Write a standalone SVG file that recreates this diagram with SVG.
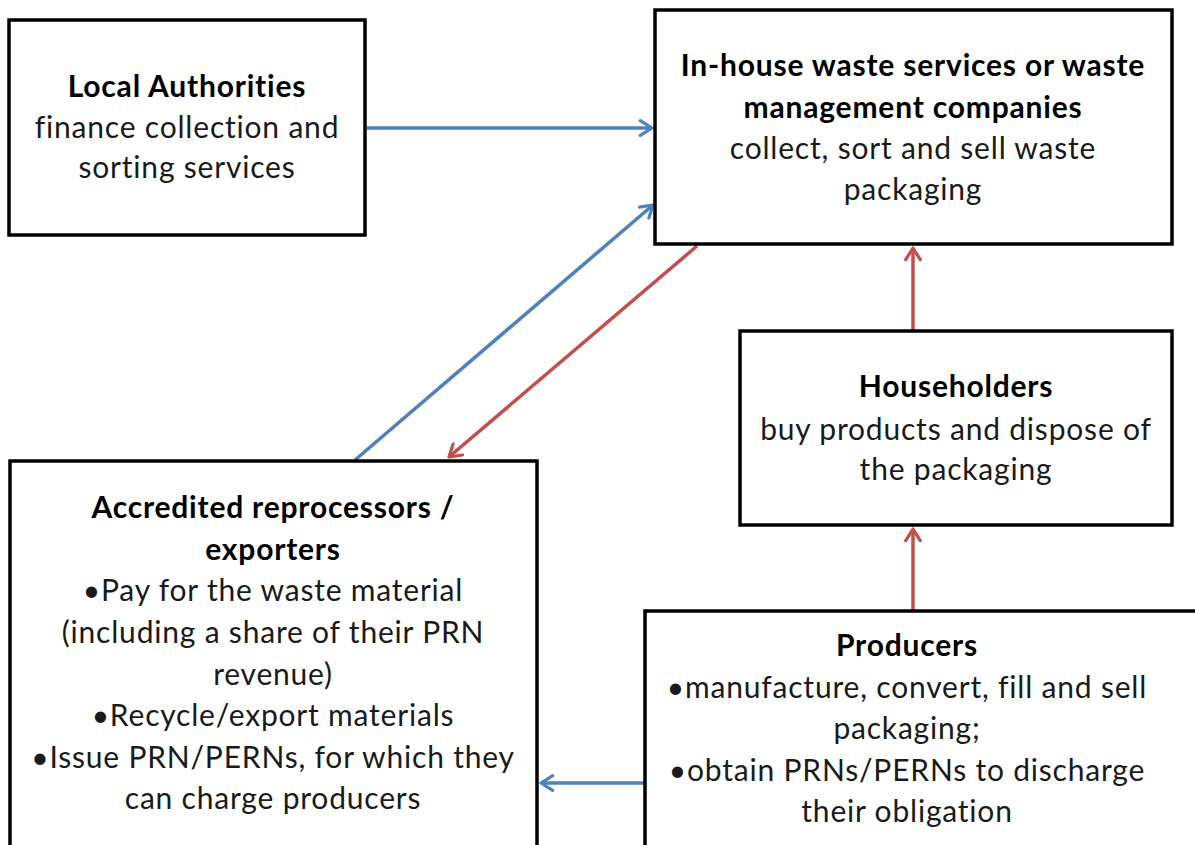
<svg xmlns="http://www.w3.org/2000/svg" width="1195" height="845" viewBox="0 0 1195 845">
<defs>
<style>
.box{fill:#fff;stroke:#000;stroke-width:3.5}
text{font-family:Lato,"Liberation Sans",sans-serif;font-size:30px;letter-spacing:0.8px;fill:#1a1a1a;text-anchor:middle}
.b{font-weight:bold;fill:#000}
.blue{stroke:#4F81BD;stroke-width:3.5;fill:none}
.red{stroke:#C0504D;stroke-width:3.5;fill:none}
</style>
<marker id="ab" viewBox="0 0 12 12" refX="10" refY="6" markerWidth="5" markerHeight="5" orient="auto" markerUnits="strokeWidth">
<path d="M2,1 L10,6 L2,11" fill="none" stroke="#4F81BD" stroke-width="2.2" stroke-linecap="round" stroke-linejoin="round"/>
</marker>
<marker id="ar" viewBox="0 0 12 12" refX="10" refY="6" markerWidth="5" markerHeight="5" orient="auto" markerUnits="strokeWidth">
<path d="M2,1 L10,6 L2,11" fill="none" stroke="#C0504D" stroke-width="2.2" stroke-linecap="round" stroke-linejoin="round"/>
</marker>
</defs>
<rect width="1195" height="845" fill="#fff"/>
<g id="connectors">
<line class="blue" x1="367" y1="128" x2="652" y2="128" marker-end="url(#ab)"/>
<line class="blue" x1="355" y1="460" x2="653" y2="205" marker-end="url(#ab)"/>
<line class="red" x1="697" y1="246" x2="449" y2="457" marker-end="url(#ar)"/>
<line class="red" x1="913" y1="330" x2="913" y2="248" marker-end="url(#ar)"/>
<line class="red" x1="913" y1="610" x2="913" y2="529" marker-end="url(#ar)"/>
<line class="blue" x1="645" y1="783" x2="541" y2="783" marker-end="url(#ab)"/>
</g>
<g id="local-authorities">
<rect class="box" x="9" y="20" width="356" height="215"/>
<text class="b" x="187" y="97">Local Authorities</text>
<text x="187" y="138">finance collection and</text>
<text x="187" y="178">sorting services</text>
</g>
<g id="in-house">
<rect class="box" x="655" y="10" width="517" height="234"/>
<text class="b" x="913" y="76">In-house waste services or waste</text>
<text class="b" x="913" y="118">management companies</text>
<text x="913" y="159">collect, sort and sell waste</text>
<text x="913" y="200">packaging</text>
</g>
<g id="householders">
<rect class="box" x="740" y="331" width="432" height="194"/>
<text class="b" x="956" y="397">Householders</text>
<text x="956" y="440">buy products and dispose of</text>
<text x="956" y="480">the packaging</text>
</g>
<g id="accredited">
<rect class="box" x="10" y="461" width="527" height="400"/>
<text class="b" x="273" y="518">Accredited reprocessors /</text>
<text class="b" x="273" y="560">exporters</text>
<text x="273" y="601">•Pay for the waste material</text>
<text x="273" y="643">(including a share of their PRN</text>
<text x="273" y="685">revenue)</text>
<text x="273" y="726">•Recycle/export materials</text>
<text x="273" y="768">•Issue PRN/PERNs, for which they</text>
<text x="273" y="809">can charge producers</text>
</g>
<g id="producers">
<rect class="box" x="645" y="611" width="570" height="260"/>
<text class="b" x="907" y="656">Producers</text>
<text x="907" y="698">•manufacture, convert, fill and sell</text>
<text x="907" y="739">packaging;</text>
<text x="907" y="781">•obtain PRNs/PERNs to discharge</text>
<text x="907" y="822">their obligation</text>
</g>
</svg>
